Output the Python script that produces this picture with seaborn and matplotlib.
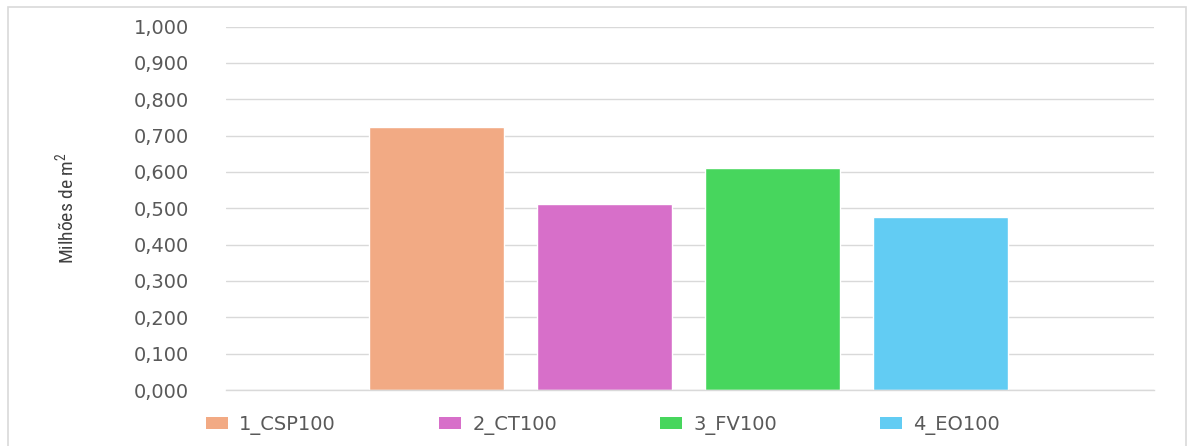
import matplotlib
matplotlib.use("Agg")
import matplotlib.pyplot as plt
from matplotlib.patches import Patch, Rectangle
from matplotlib.ticker import FuncFormatter
from matplotlib import font_manager
import seaborn as sns
import pandas as pd

# Scenario areas (millions of m²)
scenarios = ["1_CSP100", "2_CT100", "3_FV100", "4_EO100"]
areas = [0.724, 0.512, 0.612, 0.477]
colors = ["#F2AA84", "#D76FC9", "#47D65D", "#62CCF3"]
y_ticks = [0.0, 0.1, 0.2, 0.3, 0.4, 0.5, 0.6, 0.7, 0.8, 0.9, 1.0]

sns.set_theme(style="white")
plt.rcParams["font.family"] = ["DejaVu Sans"]
plt.rcParams["mathtext.default"] = "regular"

# narrow face for the axis title, if one is installed
installed = {f.name for f in font_manager.fontManager.ttflist}
narrow = next((n for n in ["Liberation Sans Narrow", "Roboto Condensed",
                           "DejaVu Sans Condensed", "Roboto"] if n in installed),
              "DejaVu Sans")

df = pd.DataFrame({"cenario": scenarios, "area": areas})

fig = plt.figure(figsize=(11.87, 4.46), dpi=100)
ax = fig.add_axes([226 / 1187, 1 - 390 / 446, (1154 - 226) / 1187, (390 - 26.5) / 446])

sns.barplot(data=df, x="cenario", y="area", hue="cenario", palette=colors,
            width=0.8, legend=False, ax=ax, saturation=1)

ax.set_xlim(-1.253, 4.27)
ax.set_ylim(0, 1.0)
ax.set_yticks(y_ticks)
ax.yaxis.set_major_formatter(FuncFormatter(lambda v, _: f"{v:.3f}".replace(".", ",")))
ax.tick_params(axis="y", labelsize=14, labelcolor="#595959", length=0, pad=26.6)
ax.set_xticks([])
ax.set_xlabel("")
ax.set_ylabel("Milhões de m$^2$", fontsize=14, color="#404040",
              family=narrow, stretch="condensed")
ax.yaxis.set_label_coords(-0.16, 0.50)

ax.grid(axis="y", color="#D9D9D9", linewidth=1.0)
ax.set_axisbelow(True)
for side in ["top", "right", "left"]:
    ax.spines[side].set_visible(False)
ax.spines["bottom"].set_color("#D9D9D9")
ax.spines["bottom"].set_linewidth(1.0)

handles = [Patch(facecolor=c, edgecolor="none", label=s) for s, c in zip(scenarios, colors)]
fig.legend(handles=handles, loc="center", bbox_to_anchor=(0.508, 1 - 425 / 446),
           ncol=4, frameon=False, fontsize=14, labelcolor="#595959",
           handlelength=1.13, handleheight=0.57, handletextpad=0.57, columnspacing=5.3)

# Outer chart frame
fig.patches.append(Rectangle((8 / 1187, -0.05), (1186 - 8) / 1187, 1 - 7 / 446 + 0.05,
                             transform=fig.transFigure, fill=False,
                             edgecolor="#D9D9D9", linewidth=1.2))

fig.savefig("out.png", dpi=100)
